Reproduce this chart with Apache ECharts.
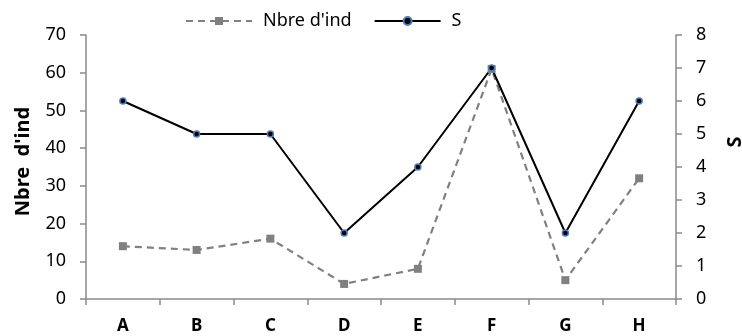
<!DOCTYPE html>
<html><head><meta charset="utf-8">
<script src="https://cdn.jsdelivr.net/npm/echarts@6/dist/echarts.min.js"></script>
<style>html,body{margin:0;padding:0;background:#fff}#c{width:742px;height:336px}</style>
</head><body><div id="c"></div>
<script>
const categories = ['A','B','C','D','E','F','G','H'];
const nbreInd = [14, 13, 16, 4, 8, 61, 5, 32];
const sValues = [6, 5, 5, 2, 4, 7, 2, 6];
const leftTicks = {min: 0, max: 70, interval: 10};
const rightTicks = {min: 0, max: 8, interval: 1};

const font = 'Noto Sans';
const axisColor = '#8a8a8a';
const chart = echarts.init(document.getElementById('c'), null, {renderer: 'canvas'});
chart.setOption({
  animation: false,
  textStyle: {fontFamily: font},
  legend: {
    top: 7, left: 180,
    itemWidth: 66, itemHeight: 10, itemGap: 22,
    textStyle: {fontFamily: font, fontSize: 18, color: '#000', padding: [0, 0, 0, 6]},
    data: [
      {name: "Nbre d'ind"},
      {name: 'S'}
    ]
  },
  grid: {left: 86, right: 66, top: 35, bottom: 37, containLabel: false, outerBoundsMode: 'none'},
  xAxis: {
    type: 'category', data: categories, boundaryGap: true,
    axisLine: {lineStyle: {color: axisColor, width: 1.5}},
    axisTick: {show: true, length: 6, inside: false, lineStyle: {color: axisColor, width: 1.5}},
    axisLabel: {fontFamily: font, fontWeight: 'bold', fontSize: 17, color: '#000', margin: 19}
  },
  yAxis: [
    {
      type: 'value', min: leftTicks.min, max: leftTicks.max, interval: leftTicks.interval,
      name: "Nbre  d'ind", nameLocation: 'middle', nameGap: 53, nameRotate: 90,
      nameTextStyle: {fontFamily: font, fontWeight: 'bold', fontSize: 20, color: '#000', padding: [0, 0, 0, 11]},
      axisLine: {show: true, lineStyle: {color: axisColor, width: 1.5}},
      axisTick: {show: true, length: 6, lineStyle: {color: axisColor, width: 1.5}},
      axisLabel: {fontFamily: font, fontSize: 18, color: '#000', margin: 20},
      splitLine: {show: false}
    },
    {
      type: 'value', position: 'right', min: rightTicks.min, max: rightTicks.max, interval: rightTicks.interval,
      name: 'S', nameLocation: 'middle', nameGap: 49, nameRotate: 90,
      nameTextStyle: {fontFamily: font, fontWeight: 'bold', fontSize: 20, color: '#000', padding: [0, 0, 0, 50]},
      axisLine: {show: true, lineStyle: {color: axisColor, width: 1.5}},
      axisTick: {show: true, length: 6, lineStyle: {color: axisColor, width: 1.5}},
      axisLabel: {fontFamily: font, fontSize: 18, color: '#000', margin: 20},
      splitLine: {show: false}
    }
  ],
  series: [
    {
      name: "Nbre d'ind", type: 'line', yAxisIndex: 0, data: nbreInd,
      symbol: 'rect', symbolSize: 8,
      lineStyle: {color: '#808080', width: 2.2, type: [7, 5]},
      itemStyle: {color: '#808080'}
    },
    {
      name: 'S', type: 'line', yAxisIndex: 1, data: sValues,
      symbol: 'circle', symbolSize: 6,
      lineStyle: {color: '#000', width: 2},
      itemStyle: {color: '#000', borderColor: '#4a7ebb', borderWidth: 1.5}
    }
  ]
});
</script></body></html>
